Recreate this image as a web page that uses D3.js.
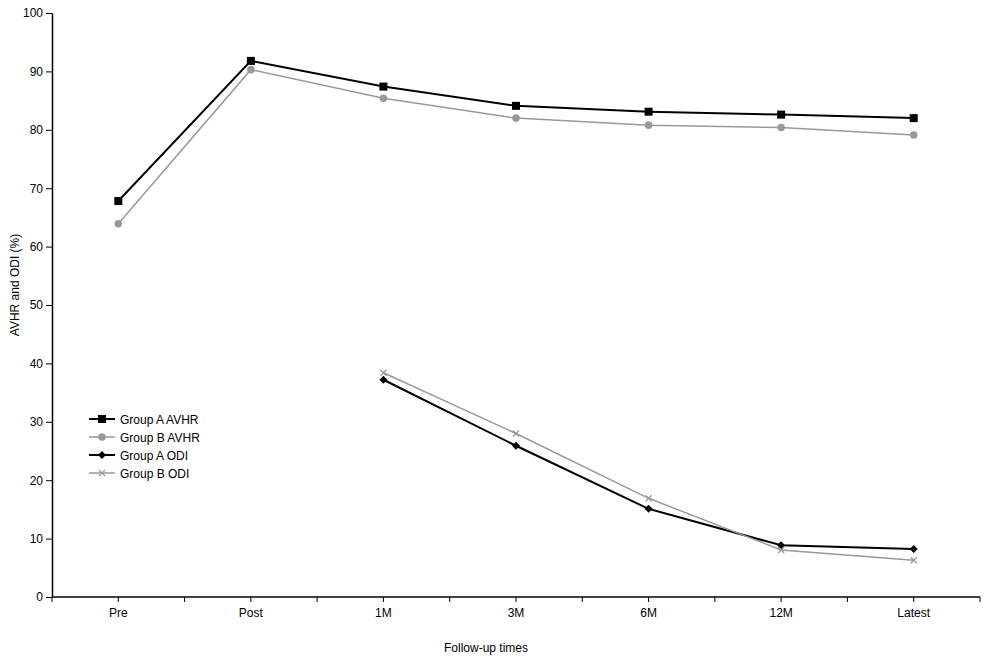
<!DOCTYPE html>
<html>
<head>
<meta charset="utf-8">
<script src="https://cdn.jsdelivr.net/npm/d3@7"></script>
<style>
  body { margin: 0; background: #fff; }
  text { font-family: "Liberation Sans", Arial, sans-serif; }
</style>
</head>
<body>
<div id="chart"></div>
<script>
var categories = ["Pre", "Post", "1M", "3M", "6M", "12M", "Latest"];
var groupA_AVHR = [67.8, 91.8, 87.4, 84.1, 83.1, 82.6, 82.0];
var groupB_AVHR = [63.9, 90.3, 85.4, 82.0, 80.8, 80.4, 79.1];
var groupA_ODI = [null, null, 37.2, 25.9, 15.1, 8.85, 8.2];
var groupB_ODI = [null, null, 38.4, 28.0, 16.9, 8.05, 6.3];
var yTicks = [0, 10, 20, 30, 40, 50, 60, 70, 80, 90, 100];

var w = 990, h = 665;
var mLeft = 52, mRight = 980, mTop = 13, mBottom = 597;

var svg = d3.select("#chart").append("svg")
    .attr("width", w)
    .attr("height", h);

var x = d3.scaleBand().domain(categories).range([mLeft, mRight]);
var y = d3.scaleLinear().domain([0, 100]).range([mBottom, mTop]);

// y axis
var yAxis = svg.append("g")
    .attr("transform", "translate(" + mLeft + ",0)")
    .call(d3.axisLeft(y).tickValues(yTicks).tickSize(6).tickSizeOuter(0).tickPadding(3));
yAxis.select(".domain").attr("stroke-width", 1.5);
yAxis.selectAll("text").attr("font-size", "12px").attr("fill", "#000");

// x axis: ticks on category centres and band edges
var xAxis = svg.append("g")
    .attr("transform", "translate(0," + mBottom + ")");
xAxis.append("line")
    .attr("x1", mLeft).attr("x2", mRight)
    .attr("stroke", "#000").attr("stroke-width", 1.5);
var edges = d3.range(categories.length + 1).map(function(i) { return mLeft + i * x.bandwidth(); });
xAxis.selectAll(".edge").data(edges).enter().append("line")
    .attr("x1", function(d) { return d; }).attr("x2", function(d) { return d; })
    .attr("y1", 0).attr("y2", 5).attr("stroke", "#000");
xAxis.selectAll(".ctick").data(categories).enter().append("line")
    .attr("x1", function(d) { return x(d) + x.bandwidth() / 2; })
    .attr("x2", function(d) { return x(d) + x.bandwidth() / 2; })
    .attr("y1", 0).attr("y2", 5).attr("stroke", "#000");
xAxis.selectAll(".clabel").data(categories).enter().append("text")
    .attr("x", function(d) { return x(d) + x.bandwidth() / 2; })
    .attr("y", 20)
    .attr("text-anchor", "middle")
    .attr("font-size", "12px")
    .text(function(d) { return d; });

// axis titles
svg.append("text")
    .attr("x", (mLeft + mRight) / 2 - 30).attr("y", 652)
    .attr("text-anchor", "middle").attr("font-size", "12px")
    .text("Follow-up times");
svg.append("text")
    .attr("transform", "translate(19,285) rotate(-90)")
    .attr("text-anchor", "middle").attr("font-size", "12px")
    .text("AVHR and ODI (%)");

var series = [
  { name: "Group A AVHR", values: groupA_AVHR, color: "#000", width: 2, marker: "square" },
  { name: "Group B AVHR", values: groupB_AVHR, color: "#999", width: 1.5, marker: "circle" },
  { name: "Group A ODI", values: groupA_ODI, color: "#000", width: 2, marker: "diamond" },
  { name: "Group B ODI", values: groupB_ODI, color: "#999", width: 1.5, marker: "cross" }
];

function drawMarker(g, type, color) {
  if (type === "square") {
    g.append("rect").attr("x", -4).attr("y", -4).attr("width", 8).attr("height", 8).attr("fill", color);
  } else if (type === "circle") {
    g.append("circle").attr("r", 3.8).attr("fill", color);
  } else if (type === "diamond") {
    g.append("path").attr("d", "M0,-4L4,0L0,4L-4,0Z").attr("fill", color);
  } else {
    g.append("path").attr("d", "M-3,-3L3,3M-3,3L3,-3").attr("stroke", color).attr("stroke-width", 1.3);
  }
}

var line = d3.line()
    .defined(function(d) { return d.v != null; })
    .x(function(d) { return x(d.c) + x.bandwidth() / 2; })
    .y(function(d) { return y(d.v); });

series.forEach(function(s) {
  var pts = categories.map(function(c, i) { return { c: c, v: s.values[i] }; });
  svg.append("path")
    .datum(pts)
    .attr("fill", "none")
    .attr("stroke", s.color)
    .attr("stroke-width", s.width)
    .attr("d", line);
  pts.filter(function(d) { return d.v != null; }).forEach(function(d) {
    var g = svg.append("g")
      .attr("transform", "translate(" + (x(d.c) + x.bandwidth() / 2) + "," + y(d.v) + ")");
    drawMarker(g, s.marker, s.color);
  });
});

// legend
var legend = svg.append("g").attr("transform", "translate(89,419)");
series.forEach(function(s, i) {
  var g = legend.append("g").attr("transform", "translate(0," + (i * 18) + ")");
  g.append("line").attr("x1", 0).attr("x2", 26)
    .attr("stroke", s.color).attr("stroke-width", s.width);
  var m = g.append("g").attr("transform", "translate(13,0)");
  drawMarker(m, s.marker, s.color);
  g.append("text").attr("x", 31).attr("y", 4.5)
    .attr("font-size", "12px").text(s.name);
});
</script>
</body>
</html>
